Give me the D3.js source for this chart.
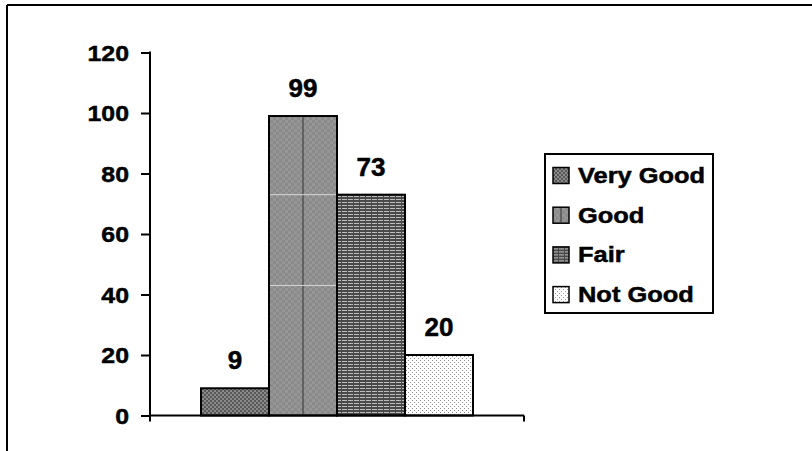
<!DOCTYPE html>
<html><head><meta charset="utf-8">
<script src="https://cdn.jsdelivr.net/npm/d3@7"></script>
<style>
html,body{margin:0;padding:0;background:#fff;}
svg text{font-family:"Liberation Sans",Arial,sans-serif;font-weight:bold;fill:#000;stroke:#000;stroke-width:0.5px;}
</style></head>
<body>
<svg id="chart" width="812" height="451"></svg>
<script>
const series = ["Very Good", "Good", "Fair", "Not Good"];
const values = [9, 99, 73, 20];
const yTicks = [0, 20, 40, 60, 80, 100, 120];
const patternIds = ["pVeryGood", "pGood", "pFair", "pNotGood"];

const svg = d3.select("#chart");
const defs = svg.append("defs");

// Very Good: dark checker
let p = defs.append("pattern").attr("id","pVeryGood").attr("patternUnits","userSpaceOnUse").attr("width",4).attr("height",4);
p.append("rect").attr("width",4).attr("height",4).attr("fill","#585858");
p.append("rect").attr("x",0).attr("y",0).attr("width",2).attr("height",2).attr("fill","#8a8a8a");
p.append("rect").attr("x",2).attr("y",2).attr("width",2).attr("height",2).attr("fill","#8a8a8a");
// Good: light gray subtle checker
p = defs.append("pattern").attr("id","pGood").attr("patternUnits","userSpaceOnUse").attr("width",6).attr("height",6);
p.append("rect").attr("width",6).attr("height",6).attr("fill","#969696");
p.append("rect").attr("x",0).attr("y",0).attr("width",3).attr("height",3).attr("fill","#8a8a8a");
p.append("rect").attr("x",3).attr("y",3).attr("width",3).attr("height",3).attr("fill","#8a8a8a");
// Fair: horizontal stripes
p = defs.append("pattern").attr("id","pFair").attr("patternUnits","userSpaceOnUse").attr("width",6).attr("height",3);
p.append("rect").attr("width",6).attr("height",3).attr("fill","#4a4a4a");
p.append("rect").attr("x",0).attr("y",1).attr("width",5).attr("height",1).attr("fill","#bdbdbd");
// Not Good: dots
p = defs.append("pattern").attr("id","pNotGood").attr("patternUnits","userSpaceOnUse").attr("width",4).attr("height",4);
p.append("rect").attr("width",4).attr("height",4).attr("fill","#ffffff");
p.append("rect").attr("x",0).attr("y",0).attr("width",1).attr("height",1).attr("fill","#8a8a8a");
p.append("rect").attr("x",2).attr("y",2).attr("width",1).attr("height",1).attr("fill","#8a8a8a");

// outer frame (top + left visible)
svg.append("line").attr("x1",7).attr("y1",5).attr("x2",812).attr("y2",5).attr("stroke","#000").attr("stroke-width",2);
svg.append("line").attr("x1",7).attr("y1",5).attr("x2",7).attr("y2",451).attr("stroke","#000").attr("stroke-width",2);

const y = d3.scaleLinear().domain([0,120]).range([415.5, 52.5]);
const x = d3.scaleBand().domain(series).range([201, 473]).padding(0);
const plotLeft = 150, plotRight = 524;
const SX = 1.13; // horizontal stretch of the text in the reference

// bars
svg.selectAll("rect.bar").data(series).enter().append("rect")
  .attr("class","bar")
  .attr("x", d => x(d))
  .attr("y", (d,i) => y(values[i]))
  .attr("width", x.bandwidth())
  .attr("height", (d,i) => y(0) - y(values[i]))
  .attr("fill", (d,i) => `url(#${patternIds[i]})`)
  .attr("stroke","#000").attr("stroke-width",2);

// artifacts in Good bar: centre vertical line and faint horizontal lines
const gX = x("Good"), gW = x.bandwidth();
svg.append("line").attr("x1",gX+gW/2).attr("x2",gX+gW/2).attr("y1",y(values[1])+1).attr("y2",y(0)-1).attr("stroke","#333").attr("stroke-width",1);
[73, 43].forEach(v => {
  svg.append("line").attr("x1",gX+1).attr("x2",gX+gW-1).attr("y1",y(v)).attr("y2",y(v)).attr("stroke","#d8d8d8").attr("stroke-width",1);
});

// data labels
svg.selectAll("text.lbl").data(series).enter().append("text")
  .attr("class","lbl")
  .attr("transform", (d,i) => `translate(${x(d) + x.bandwidth()/2},${y(values[i]) - 19}) scale(1.04,1)`)
  .attr("text-anchor","middle")
  .style("font-size","25px")
  .text((d,i) => values[i]);

// y axis
const yAxis = d3.axisLeft(y).tickValues(yTicks).tickSize(9).tickPadding(12);
const gy = svg.append("g").attr("transform",`translate(${plotLeft},0)`).call(yAxis);
gy.select(".domain").remove();
gy.selectAll(".tick line").attr("stroke","#000").attr("stroke-width",2);
gy.selectAll(".tick text").attr("font-family",null).attr("font-size",null)
  .style("font-size","22px")
  .attr("x",0).attr("dy","0.36em")
  .attr("transform",`translate(-21,0) scale(${SX},1)`);
svg.append("line").attr("x1",plotLeft).attr("x2",plotLeft).attr("y1",y(120)-1).attr("y2",y(0)+6).attr("stroke","#000").attr("stroke-width",2);

// x axis
svg.append("line").attr("x1",plotLeft-1).attr("x2",plotRight).attr("y1",y(0)).attr("y2",y(0)).attr("stroke","#000").attr("stroke-width",2);
svg.append("line").attr("x1",plotRight).attr("x2",plotRight).attr("y1",y(0)).attr("y2",y(0)+6).attr("stroke","#000").attr("stroke-width",2);

// legend
const lg = svg.append("g");
lg.append("rect").attr("x",545).attr("y",154).attr("width",168).attr("height",159).attr("fill","#fff").attr("stroke","#000").attr("stroke-width",2);
const items = lg.selectAll("g.item").data(series).enter().append("g").attr("class","item")
  .attr("transform",(d,i)=>`translate(553,${168 + i*39.7})`);
items.append("rect").attr("width",16).attr("height",16).attr("y",-0.5)
  .attr("fill",(d,i)=>`url(#${patternIds[i]})`).attr("stroke","#000").attr("stroke-width",1.5);
items.filter(d=>d==="Good").append("line").attr("x1",8).attr("x2",8).attr("y1",0.5).attr("y2",14.5).attr("stroke","#333").attr("stroke-width",1);
items.append("text").attr("transform",`translate(25,15) scale(${SX},1)`).style("font-size","22.5px").text(d=>d);
</script>
</body></html>
